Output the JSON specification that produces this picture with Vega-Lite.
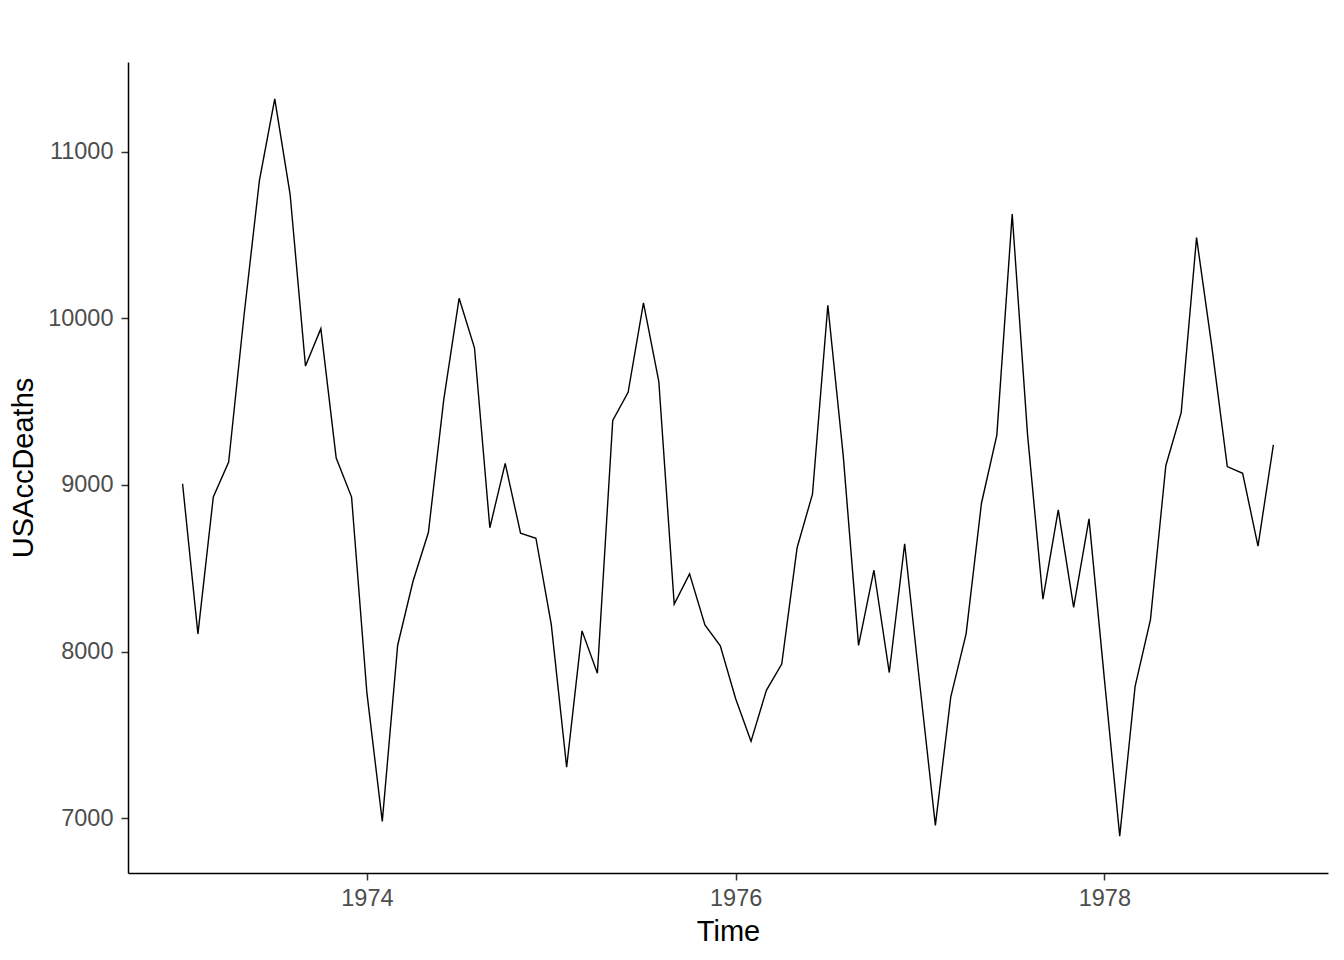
{
  "$schema": "https://vega.github.io/schema/vega-lite/v6.json",
  "width": 1200,
  "height": 811,
  "autosize": {"type": "none"},
  "padding": {"left": 128, "top": 62, "right": 16, "bottom": 87},
  "background": "white",
  "config": {"view": {"stroke": null}, "font": "Liberation Sans"},
  "data": {"values": [
    {"t": 1973.0, "v": 9007}, {"t": 1973.0833, "v": 8106}, {"t": 1973.1667, "v": 8928}, {"t": 1973.25, "v": 9137},
    {"t": 1973.3333, "v": 10017}, {"t": 1973.4167, "v": 10826}, {"t": 1973.5, "v": 11317}, {"t": 1973.5833, "v": 10744},
    {"t": 1973.6667, "v": 9713}, {"t": 1973.75, "v": 9938}, {"t": 1973.8333, "v": 9161}, {"t": 1973.9167, "v": 8927},
    {"t": 1974.0, "v": 7750}, {"t": 1974.0833, "v": 6981}, {"t": 1974.1667, "v": 8038}, {"t": 1974.25, "v": 8422},
    {"t": 1974.3333, "v": 8714}, {"t": 1974.4167, "v": 9512}, {"t": 1974.5, "v": 10120}, {"t": 1974.5833, "v": 9823},
    {"t": 1974.6667, "v": 8743}, {"t": 1974.75, "v": 9129}, {"t": 1974.8333, "v": 8710}, {"t": 1974.9167, "v": 8680},
    {"t": 1975.0, "v": 8162}, {"t": 1975.0833, "v": 7306}, {"t": 1975.1667, "v": 8124}, {"t": 1975.25, "v": 7870},
    {"t": 1975.3333, "v": 9387}, {"t": 1975.4167, "v": 9556}, {"t": 1975.5, "v": 10093}, {"t": 1975.5833, "v": 9620},
    {"t": 1975.6667, "v": 8285}, {"t": 1975.75, "v": 8466}, {"t": 1975.8333, "v": 8160}, {"t": 1975.9167, "v": 8034},
    {"t": 1976.0, "v": 7717}, {"t": 1976.0833, "v": 7461}, {"t": 1976.1667, "v": 7767}, {"t": 1976.25, "v": 7925},
    {"t": 1976.3333, "v": 8623}, {"t": 1976.4167, "v": 8945}, {"t": 1976.5, "v": 10078}, {"t": 1976.5833, "v": 9179},
    {"t": 1976.6667, "v": 8037}, {"t": 1976.75, "v": 8488}, {"t": 1976.8333, "v": 7874}, {"t": 1976.9167, "v": 8647},
    {"t": 1977.0, "v": 7792}, {"t": 1977.0833, "v": 6957}, {"t": 1977.1667, "v": 7726}, {"t": 1977.25, "v": 8106},
    {"t": 1977.3333, "v": 8890}, {"t": 1977.4167, "v": 9299}, {"t": 1977.5, "v": 10625}, {"t": 1977.5833, "v": 9302},
    {"t": 1977.6667, "v": 8314}, {"t": 1977.75, "v": 8850}, {"t": 1977.8333, "v": 8265}, {"t": 1977.9167, "v": 8796},
    {"t": 1978.0, "v": 7836}, {"t": 1978.0833, "v": 6892}, {"t": 1978.1667, "v": 7791}, {"t": 1978.25, "v": 8192},
    {"t": 1978.3333, "v": 9115}, {"t": 1978.4167, "v": 9434}, {"t": 1978.5, "v": 10484}, {"t": 1978.5833, "v": 9827},
    {"t": 1978.6667, "v": 9110}, {"t": 1978.75, "v": 9070}, {"t": 1978.8333, "v": 8633}, {"t": 1978.9167, "v": 9240}
  ]},
  "mark": {"type": "line", "color": "black", "strokeWidth": 1.4},
  "encoding": {
    "x": {
      "field": "t", "type": "quantitative",
      "scale": {"domain": [1972.704, 1979.213], "nice": false, "zero": false},
      "axis": {
        "title": "Time", "values": [1974, 1976, 1978], "format": "d", "grid": false,
        "domainColor": "black", "domainWidth": 1.5, "tickColor": "#333333", "tickWidth": 1.5, "tickSize": 7,
        "labelFont": "Liberation Sans", "labelFontSize": 23.5, "labelColor": "#4D4D4D", "labelPadding": 6,
        "titleFont": "Liberation Sans", "titleFontSize": 29, "titleFontWeight": "normal", "titleColor": "black", "titlePadding": 8
      }
    },
    "y": {
      "field": "v", "type": "quantitative",
      "scale": {"domain": [6671, 11538], "nice": false, "zero": false},
      "axis": {
        "title": "USAccDeaths", "values": [7000, 8000, 9000, 10000, 11000], "format": "d", "grid": false,
        "domainColor": "black", "domainWidth": 1.5, "tickColor": "#333333", "tickWidth": 1.5, "tickSize": 7,
        "labelFont": "Liberation Sans", "labelFontSize": 23.5, "labelColor": "#4D4D4D", "labelPadding": 8,
        "titleFont": "Liberation Sans", "titleFontSize": 29, "titleFontWeight": "normal", "titleColor": "black", "titlePadding": 9
      }
    }
  }
}
